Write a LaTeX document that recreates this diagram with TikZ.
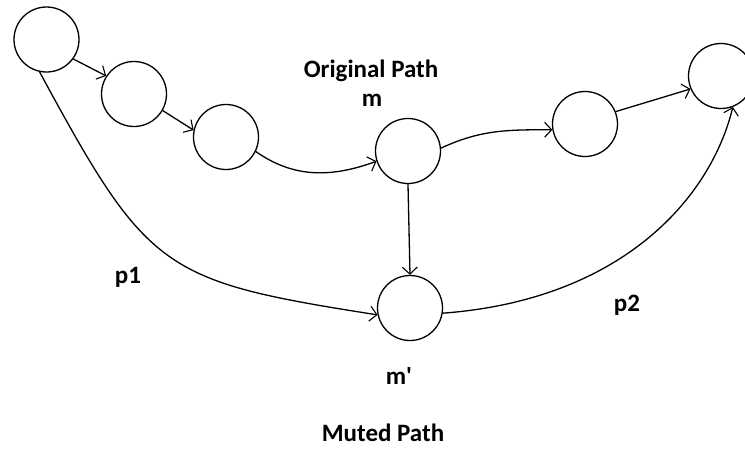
\documentclass[tikz,border=0pt]{standalone}
\usepackage{fontspec}
\setmainfont{Carlito}
\usetikzlibrary{arrows.meta}
\begin{document}
\begin{tikzpicture}[x=1pt,y=-1pt,
  state/.style={circle,draw,line width=1.3pt,minimum size=65pt,inner sep=0pt},
  conn/.style={line width=1.3pt,-{Straight Barb[length=7pt,width=15pt,line width=1.1pt]}},
  lbl/.style={font=\fontsize{25}{30}\selectfont\bfseries,text=black,inner sep=0pt}]
\useasboundingbox (0,0) rectangle (745,448);
\node[state] (A) at (46.5,39.5) {};
\node[state] (B) at (134,94) {};
\node[state] (C) at (226,137) {};
\node[state] (M) at (408,151) {};
\node[state] (E) at (585,124) {};
\node[state] (F) at (721,76) {};
\node[state] (Mp) at (410,308) {};
\node[lbl] (orig) at (371,71) {Original Path};
\node[lbl] (m) at (372,100) {m};
\node[lbl] (p1) at (128,277) {p1};
\node[lbl] (p2) at (627,305) {p2};
\node[lbl] (mp) at (399,376) {m\textquotesingle};
\node[lbl,anchor=base] (muted) at (383,441) {Muted Path};
\draw[conn] (A.-36) -- (B.147);
\draw[conn] (B.-30) -- (C.168);
\draw[conn] (C.-26) to[out=-35,in=200] (M.198);
\draw[conn] (M.5) to[out=25,in=180] (E.190);
\draw[conn] (E.22) -- (F.203);
\draw[conn] (M.-90) -- (Mp.90);
\draw[conn] (A.258) .. controls (148,272) and (162,281) .. (Mp.192);
\draw[conn] (Mp.-9) .. controls (620,300) and (710,200) .. (F.-69);
\end{tikzpicture}
\end{document}
